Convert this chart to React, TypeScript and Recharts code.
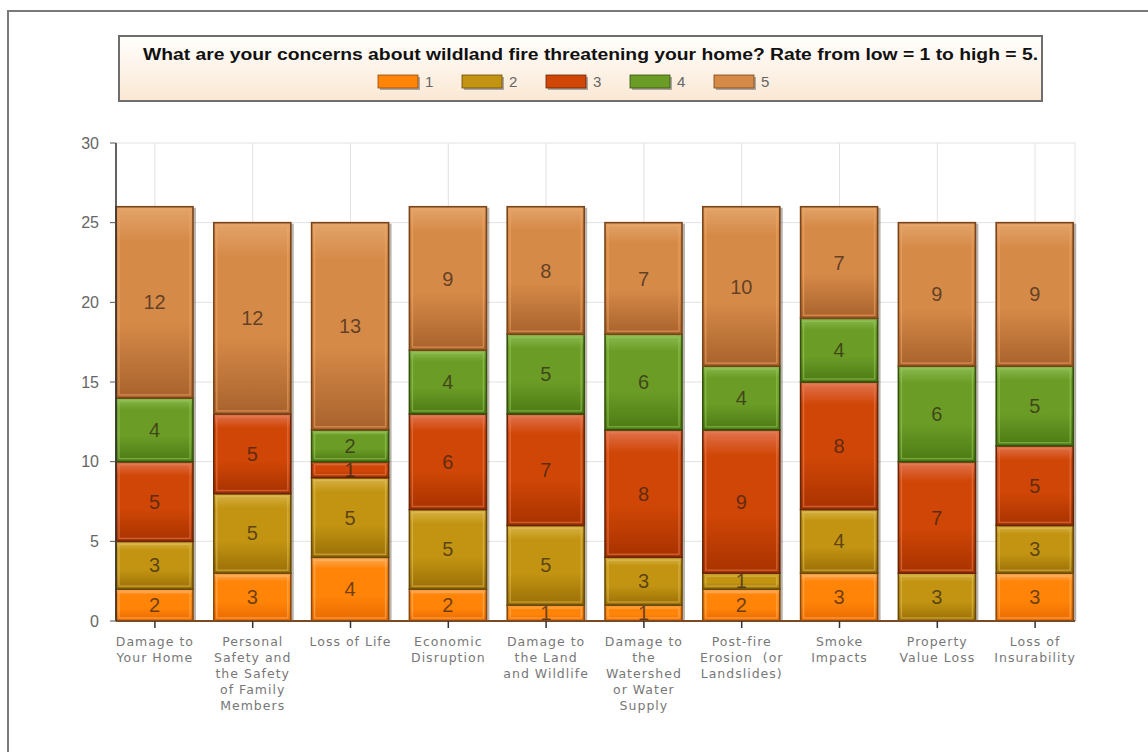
import { BarChart, Bar, XAxis, YAxis, CartesianGrid, Legend, LabelList } from 'recharts';

// Categories (line breaks as in the original axis labels)
const categories = [
  'Damage to\nYour Home',
  'Personal\nSafety and\nthe Safety\nof Family\nMembers',
  'Loss of Life',
  'Economic\nDisruption',
  'Damage to\nthe Land\nand Wildlife',
  'Damage to\nthe\nWatershed\nor Water\nSupply',
  'Post-fire\nErosion  (or\nLandslides)',
  'Smoke\nImpacts',
  'Property\nValue Loss',
  'Loss of\nInsurability',
];

const rating1 = [2, 3, 4, 2, 1, 1, 2, 3, 0, 3];
const rating2 = [3, 5, 5, 5, 5, 3, 1, 4, 3, 3];
const rating3 = [5, 5, 1, 6, 7, 8, 9, 8, 7, 5];
const rating4 = [4, 0, 2, 4, 5, 6, 4, 4, 6, 5];
const rating5 = [12, 12, 13, 9, 8, 7, 10, 7, 9, 9];

const seriesNames = ['1', '2', '3', '4', '5'];
const yTicks = [0, 5, 10, 15, 20, 25, 30];

const title = 'What are your concerns about wildland fire threatening your home? Rate from low = 1 to high = 5.';

// colour per rating: [top highlight, base, bottom, outline, inner rim]
const palette = [
  { top: '#ffae5a', base: '#ff8408', bottom: '#e86a00', edge: '#8a4a10', rim: '#ffb870' },
  { top: '#d8b446', base: '#c29412', bottom: '#9a6e06', edge: '#6a4a08', rim: '#e0c060' },
  { top: '#e27450', base: '#cf4606', bottom: '#a83200', edge: '#6a2406', rim: '#e8845a' },
  { top: '#8cbc52', base: '#6b9c26', bottom: '#4c7a14', edge: '#35520c', rim: '#9cc860' },
  { top: '#e2a46a', base: '#d68a48', bottom: '#a8622c', edge: '#7a4418', rim: '#f0a868' },
];

const chartData = categories.map((name, i) => ({
  name,
  '1': rating1[i],
  '2': rating2[i],
  '3': rating3[i],
  '4': rating4[i],
  '5': rating5[i],
}));

const makeShape = (idx: number) => (props: any) => {
  const { x, y, width, height } = props;
  if (!height || height <= 0) return <g />;
  const c = palette[idx];
  return (
    <g>
      <rect x={x + 3} y={y + 1} width={width} height={height} fill="#3a2a1a" opacity={0.35} />
      <rect x={x} y={y} width={width} height={height} fill={`url(#seg${idx})`} stroke={c.edge} strokeWidth={1.6} />
      {height > 7 && (
        <rect x={x + 3} y={y + 3} width={width - 6} height={height - 6} fill="none" stroke={c.rim} strokeWidth={1.4} opacity={0.55} />
      )}
    </g>
  );
};

function CategoryTick({ x, y, payload }: any) {
  const lines = String(payload.value).split('\n');
  return (
    <text x={x} y={y} textAnchor="middle" fill="#777" fontSize={12.5} fontFamily="DejaVu Sans" letterSpacing={1}>
      {lines.map((line, i) => (
        <tspan key={i} x={x} dy={16} style={{ whiteSpace: 'pre' }}>
          {line}
        </tspan>
      ))}
    </text>
  );
}

function TitleLegend() {
  return (
    <div
      style={{
        width: 925,
        height: 67,
        boxSizing: 'border-box',
        border: '2px solid #6e6e6e',
        background: 'linear-gradient(#fffefc, #fbe8d4)',
      }}
    >
      <svg width={921} height={63} style={{ display: 'block' }}>
        <text
          x={23}
          y={23}
          fontFamily="Liberation Sans"
          fontWeight="bold"
          fontSize={16}
          fill="#111"
          textLength={895}
          lengthAdjust="spacingAndGlyphs"
        >
          {title}
        </text>
        {seriesNames.map((s, i) => {
          const sx = 258 + i * 84;
          return (
            <g key={s}>
              <rect x={sx + 2} y={40} width={40} height={13} fill="#777" opacity={0.6} />
              <rect x={sx} y={38} width={40} height={13} fill={palette[i].base} stroke={palette[i].edge} strokeWidth={0.8} />
              <text x={sx + 47} y={50} fontFamily="Liberation Sans" fontSize={15} fill="#666">
                {s}
              </text>
            </g>
          );
        })}
      </svg>
    </div>
  );
}

export default function App() {
  return (
    <div style={{ position: 'fixed', left: 0, top: 0, width: 1148, height: 752, background: '#fff', overflow: 'hidden' }}>
      <div
        style={{
          position: 'absolute',
          left: 7,
          top: 10,
          width: 1200,
          height: 800,
          borderTop: '2px solid #7a7a7a',
          borderLeft: '2px solid #7a7a7a',
        }}
      />
      <BarChart
        width={1148}
        height={752}
        data={chartData}
        margin={{ top: 143, right: 73, left: 56, bottom: 41 }}
        barSize={77}
        style={{ position: 'absolute', left: 0, top: 0 }}
      >
        <defs>
          {palette.map((c, i) => (
            <linearGradient key={i} id={`seg${i}`} x1="0" y1="0" x2="0" y2="1">
              <stop offset="0%" stopColor={c.top} />
              <stop offset="18%" stopColor={c.base} />
              <stop offset="60%" stopColor={c.base} />
              <stop offset="100%" stopColor={c.bottom} />
            </linearGradient>
          ))}
        </defs>
        <CartesianGrid stroke="#e2e2e2" />
        <XAxis
          dataKey="name"
          interval={0}
          height={90}
          padding={{ left: -10, right: -9 }}
          axisLine={{ stroke: '#7b4a22', strokeWidth: 2 }}
          tickLine={{ stroke: '#333', strokeWidth: 1.5 }}
          tickSize={7}
          tickMargin={2}
          tick={<CategoryTick />}
        />
        <YAxis
          width={60}
          domain={[0, 30]}
          ticks={yTicks}
          allowDataOverflow
          axisLine={{ stroke: '#333', strokeWidth: 1.5 }}
          tickLine={{ stroke: '#555' }}
          tickSize={6}
          tickMargin={11}
          tick={{ fill: '#666', fontSize: 16, fontFamily: 'Liberation Sans' }}
        />
        <Legend
          layout="vertical"
          align="center"
          verticalAlign="middle"
          wrapperStyle={{ left: 118, top: 35, width: 925, height: 67 }}
          content={() => <TitleLegend />}
        />
        {seriesNames.map((s, i) => (
          <Bar key={s} dataKey={s} stackId="a" fill={palette[i].base} shape={makeShape(i)} isAnimationActive={false}>
            <LabelList
              dataKey={s}
              position="center"
              formatter={(v: any) => (Number(v) === 0 ? '' : v)}
              fill="#2e2014"
              fillOpacity={0.7}
              fontSize={20}
              fontFamily="Liberation Sans"
            />
          </Bar>
        ))}
      </BarChart>
    </div>
  );
}
